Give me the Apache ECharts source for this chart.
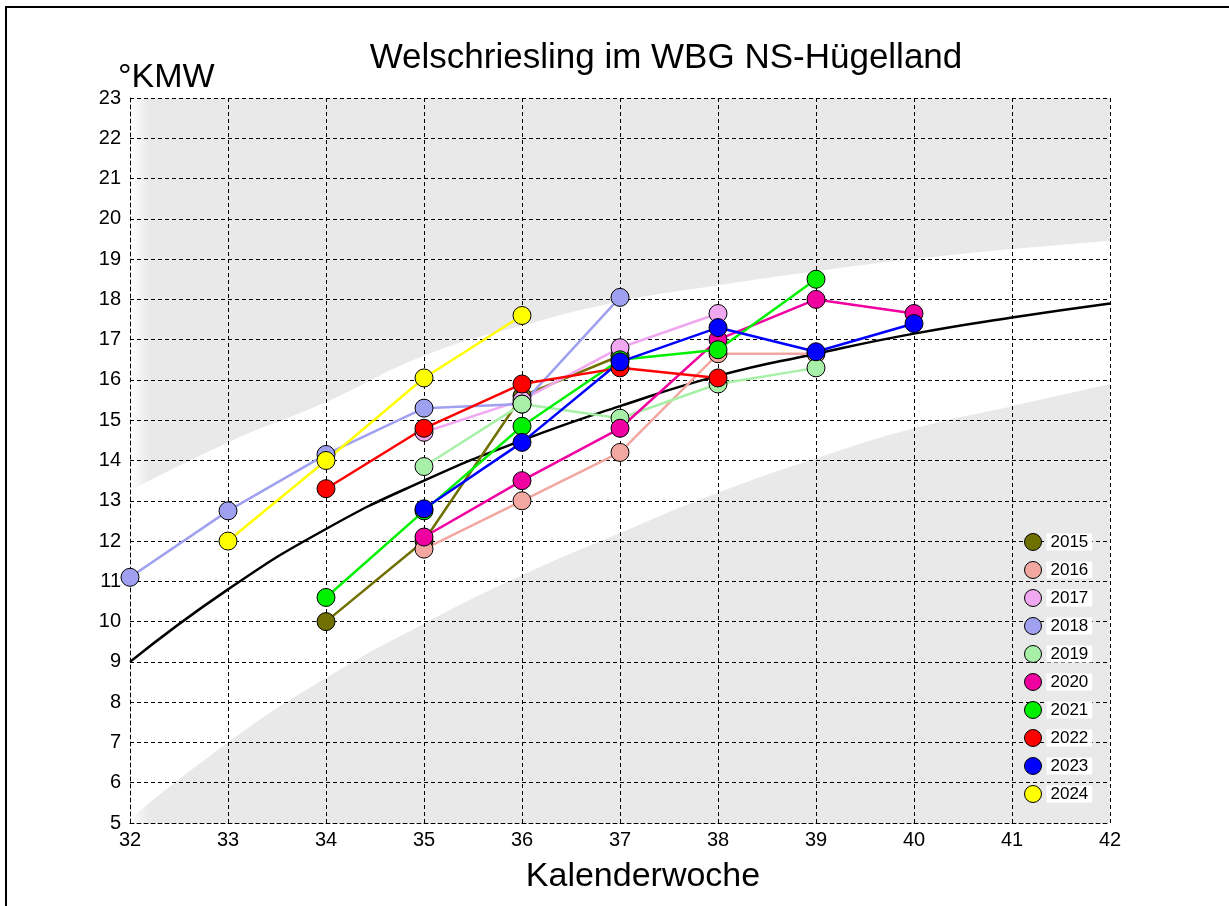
<!DOCTYPE html>
<html><head><meta charset="utf-8">
<script src="https://cdn.jsdelivr.net/npm/echarts@6/dist/echarts.min.js"></script>
<style>html,body{margin:0;padding:0;background:#fff}#c{width:1229px;height:906px}</style>
</head><body><div id="c"></div>
<script>
// ---- data ----
const weeks = [32, 33, 34, 35, 36, 37, 38, 39, 40, 41, 42];
const upperBand = [13.25, 14.45, 15.45, 16.6, 17.35, 17.95, 18.35, 18.7, 19.0, 19.25, 19.45];
const lowerBand = [5.1, 7.0, 8.6, 9.95, 11.15, 12.2, 13.2, 14.05, 14.8, 15.35, 15.9];
const average = [9.0, 10.8, 12.3, 13.5, 14.5, 15.35, 16.1, 16.65, 17.15, 17.55, 17.9];
const years = ['2015', '2016', '2017', '2018', '2019', '2020', '2021', '2022', '2023', '2024'];
const yearColors = ['#707000', '#f2a8a0', '#f0a8f0', '#a0a0f0', '#a8f0a8', '#f000a0', '#00f000', '#ff0000', '#0000ff', '#ffff00'];
const v2015 = [[34, 10.0], [35, 12.0], [36, 15.6], [37, 16.6]];
const v2016 = [[35, 11.8], [36, 13.0], [37, 14.2], [38, 16.65], [39, 16.65]];
const v2017 = [[35, 14.7], [36, 15.5], [37, 16.8], [38, 17.65]];
const v2018 = [[32, 11.1], [33, 12.75], [34, 14.15], [35, 15.3], [36, 15.4], [37, 18.05]];
const v2019 = [[35, 13.85], [36, 15.4], [37, 15.05], [38, 15.9], [39, 16.3]];
const v2020 = [[35, 12.1], [36, 13.5], [37, 14.8], [38, 17.0], [39, 18.0], [40, 17.65]];
const v2021 = [[34, 10.6], [35, 12.75], [36, 14.85], [37, 16.5], [38, 16.75], [39, 18.5]];
const v2022 = [[34, 13.3], [35, 14.8], [36, 15.9], [37, 16.3], [38, 16.05]];
const v2023 = [[35, 12.8], [36, 14.45], [37, 16.45], [38, 17.3], [39, 16.7], [40, 17.4]];
const v2024 = [[33, 12.0], [34, 14.0], [35, 16.05], [36, 17.6]];
const yearValues = [v2015, v2016, v2017, v2018, v2019, v2020, v2021, v2022, v2023, v2024];

// ---- chart ----
const FONT = '"Liberation Sans", Arial, sans-serif';
const chart = echarts.init(document.getElementById('c'), null, {renderer: 'canvas'});
const grayGrad = () => ({
  type: 'linear', x: 0, y: 0, x2: 1, y2: 0,
  colorStops: [{offset: 0, color: '#ffffff'}, {offset: 0.02, color: '#e9e9e9'}, {offset: 1, color: '#e9e9e9'}]
});
const dashed = {color: '#000', width: 1, type: [4, 3]};
const pair = arr => weeks.map((w, i) => [w, arr[i]]);

const series = [
  {name: 'upper', type: 'line', z: 1, data: pair(upperBand), smooth: true, symbol: 'none', silent: true,
   lineStyle: {width: 0}, areaStyle: {color: '#ffffff', origin: 'start', opacity: 1}},
  {name: 'lower', type: 'line', z: 1, data: pair(lowerBand), smooth: true, symbol: 'none', silent: true,
   lineStyle: {width: 0}, areaStyle: {color: grayGrad(), origin: 'start', opacity: 1}},
  {name: 'Mittel', type: 'line', z: 3, data: pair(average), smooth: true, symbol: 'none',
   lineStyle: {color: '#000', width: 2.5}}
];
years.forEach((y, i) => {
  series.push({
    name: y, type: 'line', z: 3, data: yearValues[i], symbol: 'circle', symbolSize: 18,
    lineStyle: {color: yearColors[i], width: 2.5},
    itemStyle: {color: yearColors[i], borderColor: '#000', borderWidth: 1}
  });
});

chart.setOption({
  animation: false,
  backgroundColor: '#fff',
  title: {text: 'Welschriesling im WBG NS-Hügelland', left: 666, top: 41, padding: 0, textAlign: 'center',
    textStyle: {fontFamily: FONT, fontSize: 35, fontWeight: 'normal', color: '#000'}},
  grid: {left: 130, right: 119, top: 98, bottom: 83, show: true, z: 0, borderWidth: 0, backgroundColor: grayGrad()},
  legend: {data: years, orient: 'vertical', left: 1024, top: 533, padding: 0, itemWidth: 17, itemHeight: 17, itemGap: 10,
    icon: 'circle', itemStyle: {borderColor: '#000', borderWidth: 1},
    textStyle: {fontFamily: FONT, fontSize: 17, color: '#000', backgroundColor: '#fff', padding: [0, 4], lineHeight: 17}},
  xAxis: {type: 'value', min: 32, max: 42, interval: 1, z: 2,
    axisLine: {show: true, lineStyle: dashed}, axisTick: {show: false},
    splitLine: {show: true, lineStyle: dashed},
    axisLabel: {fontFamily: FONT, fontSize: 20, color: '#000', margin: 7}},
  yAxis: {type: 'value', min: 5, max: 23, interval: 1, z: 2,
    axisLine: {show: true, lineStyle: dashed}, axisTick: {show: false},
    splitLine: {show: true, lineStyle: dashed},
    axisLabel: {fontFamily: FONT, fontSize: 20, color: '#000', margin: 9}},
  graphic: [
    {type: 'text', left: 118, top: 61, style: {text: '°KMW', font: '34px ' + FONT, fill: '#000'}},
    {type: 'text', x: 643, y: 860, style: {text: 'Kalenderwoche', font: '34px ' + FONT, fill: '#000', textAlign: 'center', textVerticalAlign: 'top'}},
    {type: 'line', shape: {x1: 5, y1: 7, x2: 1229, y2: 7}, style: {stroke: '#000', lineWidth: 2}},
    {type: 'line', shape: {x1: 6, y1: 6, x2: 6, y2: 906}, style: {stroke: '#000', lineWidth: 2}}
  ],
  series: series
});
</script></body></html>
